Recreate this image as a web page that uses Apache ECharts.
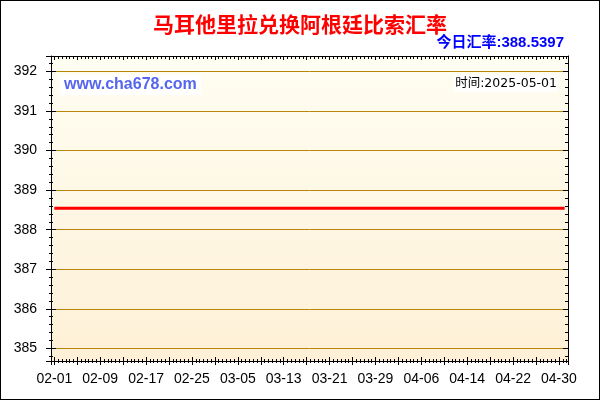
<!DOCTYPE html>
<html><head><meta charset="utf-8">
<script src="https://cdn.jsdelivr.net/npm/echarts@6/dist/echarts.min.js"></script>
<style>
html,body{margin:0;padding:0;background:#fff}
#c{width:600px;height:400px;position:absolute;left:0;top:0}
#b{position:absolute;left:0;top:0;width:600px;height:400px;box-sizing:border-box;border:1px solid #000;pointer-events:none}
</style>
</head><body><div id="c"></div><div id="b"></div>
<script>
const titleText = '马耳他里拉兑换阿根廷比索汇率';
const rateLabel = '今日汇率:';
const currentRate = '388.5397';
const timeLabel = '时间:';
const updateDate = '2025-05-01';
const siteText = 'www.cha678.com';

const dates = [
'02-01','02-02','02-03','02-04','02-05','02-06','02-07','02-08','02-09','02-10',
'02-11','02-12','02-13','02-14','02-15','02-16','02-17','02-18','02-19','02-20',
'02-21','02-22','02-23','02-24','02-25','02-26','02-27','02-28',
'03-01','03-02','03-03','03-04','03-05','03-06','03-07','03-08','03-09','03-10',
'03-11','03-12','03-13','03-14','03-15','03-16','03-17','03-18','03-19','03-20',
'03-21','03-22','03-23','03-24','03-25','03-26','03-27','03-28','03-29','03-30','03-31',
'04-01','04-02','04-03','04-04','04-05','04-06','04-07','04-08','04-09','04-10',
'04-11','04-12','04-13','04-14','04-15','04-16','04-17','04-18','04-19','04-20',
'04-21','04-22','04-23','04-24','04-25','04-26','04-27','04-28','04-29','04-30',
'05-01'
];

const rates = [
388.5397,388.5397,388.5397,388.5397,388.5397,388.5397,388.5397,388.5397,388.5397,388.5397,
388.5397,388.5397,388.5397,388.5397,388.5397,388.5397,388.5397,388.5397,388.5397,388.5397,
388.5397,388.5397,388.5397,388.5397,388.5397,388.5397,388.5397,388.5397,
388.5397,388.5397,388.5397,388.5397,388.5397,388.5397,388.5397,388.5397,388.5397,388.5397,
388.5397,388.5397,388.5397,388.5397,388.5397,388.5397,388.5397,388.5397,388.5397,388.5397,
388.5397,388.5397,388.5397,388.5397,388.5397,388.5397,388.5397,388.5397,388.5397,388.5397,388.5397,
388.5397,388.5397,388.5397,388.5397,388.5397,388.5397,388.5397,388.5397,388.5397,388.5397,
388.5397,388.5397,388.5397,388.5397,388.5397,388.5397,388.5397,388.5397,388.5397,388.5397,
388.5397,388.5397,388.5397,388.5397,388.5397,388.5397,388.5397,388.5397,388.5397,388.5397,
388.5397
];

const xRange = [-0.58, 89.58];
const yRange = [384.68, 392.39];
const xLabelStep = 8;
const xTickStep = 4;
const yStep = 1;

const chart = echarts.init(document.getElementById('c'), null, {renderer: 'canvas'});

const black = '#000000';
const gridLine = '#B8860B';

function tickAxisX(pos, inside, len, minorLen, line) {
  return {
    type: 'value', min: xRange[0], max: xRange[1],
    minInterval: xTickStep, maxInterval: xTickStep,
    position: pos,
    axisLine: {show: line, onZero: false, lineStyle: {color: black, width: 1}},
    axisTick: {show: true, inside: inside, length: len, lineStyle: {color: black, width: 1}},
    minorTick: {show: true, splitNumber: 6, length: minorLen, lineStyle: {color: black, width: 1}},
    axisLabel: {show: false},
    splitLine: {show: false},
    z: 4
  };
}
function tickAxisY(pos, inside, len, minorLen, line) {
  return {
    type: 'value', min: yRange[0], max: yRange[1],
    minInterval: yStep, maxInterval: yStep,
    position: pos,
    axisLine: {show: line, onZero: false, lineStyle: {color: black, width: 1}},
    axisTick: {show: true, inside: inside, length: len, lineStyle: {color: black, width: 1}},
    minorTick: {show: true, splitNumber: 5, length: minorLen, lineStyle: {color: black, width: 1}},
    axisLabel: {show: false},
    splitLine: {show: false},
    z: 4
  };
}

const option = {
  animation: false,
  backgroundColor: '#ffffff',
  title: [
    {text: titleText, left: 'center', top: 14, padding: 0,
     textStyle: {color: '#FF0000', fontSize: 21, fontWeight: 'bold', fontFamily: 'Noto Sans CJK SC'}},
    {text: rateLabel + currentRate, right: 36, top: 35, padding: 0,
     textStyle: {color: '#0000FF', fontSize: 15, fontWeight: 'bold', fontFamily: 'Liberation Sans, Noto Sans CJK SC'}},
    {text: siteText, left: 60, top: 75, padding: [2, 4], backgroundColor: '#ffffff',
     textStyle: {color: '#5566EE', fontSize: 16, fontWeight: 'bold', fontFamily: 'Liberation Sans'}},
    {text: timeLabel + updateDate, right: 42, top: 75, padding: [2, 1], backgroundColor: '#ffffff',
     textStyle: {color: '#000000', fontSize: 12.5, fontWeight: 'normal', fontFamily: 'DejaVu Sans, Noto Sans CJK SC'}}
  ],
  grid: {
    left: 51, right: 32, top: 56, bottom: 39, show: true, borderWidth: 0,
    backgroundColor: {type: 'linear', x: 0, y: 0, x2: 0, y2: 1,
      colorStops: [{offset: 0, color: '#FFFEF3'}, {offset: 1, color: '#FEF0D6'}]}
  },
  xAxis: [
    {
      type: 'value', min: xRange[0], max: xRange[1],
      minInterval: xLabelStep, maxInterval: xLabelStep,
      position: 'bottom',
      axisLine: {show: true, onZero: false, lineStyle: {color: black, width: 1}},
      axisTick: {show: false},
      splitLine: {show: false},
      axisLabel: {
        margin: 11, color: '#000', fontSize: 14, fontFamily: 'Liberation Sans',
        showMinLabel: true, showMaxLabel: true,
        formatter: function (v) {
          const i = Math.round(v);
          return (Math.abs(v - i) < 1e-6 && dates[i]) ? dates[i] : '';
        }
      },
      z: 4
    },
    tickAxisX('bottom', false, 4, 2, false),
    tickAxisX('bottom', true, 4, 2, false),
    tickAxisX('top', true, 4, 3, true)
  ],
  yAxis: [
    {
      type: 'value', min: yRange[0], max: yRange[1],
      minInterval: yStep, maxInterval: yStep,
      position: 'left',
      axisLine: {show: true, onZero: false, lineStyle: {color: black, width: 1}},
      axisTick: {show: true, inside: false, length: 5, lineStyle: {color: black, width: 1}},
      minorTick: {show: true, splitNumber: 5, length: 2, lineStyle: {color: black, width: 1}},
      axisLabel: {
        margin: 14, color: '#000', fontSize: 14, fontFamily: 'Liberation Sans',
        formatter: function (v) {
          const i = Math.round(v);
          return Math.abs(v - i) < 1e-6 ? String(i) : '';
        }
      },
      splitLine: {show: true, showMinLine: false, showMaxLine: false, lineStyle: {color: gridLine, width: 1}},
      z: 1
    },
    tickAxisY('left', true, 5, 2, false),
    tickAxisY('right', true, 5, 3, true)
  ],
  series: [{
    type: 'line',
    xAxisIndex: 0, yAxisIndex: 0,
    data: dates.map(function (d, i) { return [i, rates[i]]; }),
    showSymbol: false, symbol: 'none',
    lineStyle: {color: '#FF0000', width: 3},
    z: 3
  }]
};
chart.setOption(option);
</script>
</body></html>
